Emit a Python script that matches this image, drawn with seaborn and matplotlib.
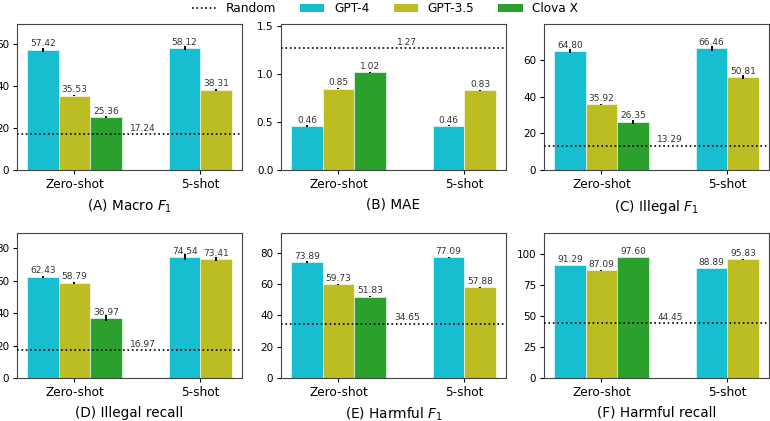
import matplotlib
matplotlib.use("Agg")
import matplotlib.pyplot as plt
import pandas as pd
import seaborn as sns
from matplotlib.lines import Line2D
from matplotlib.patches import Patch
from matplotlib.ticker import MaxNLocator

settings = ["Zero-shot", "5-shot"]
models = ["GPT-4", "GPT-3.5", "Clova X"]
models_5shot = ["GPT-4", "GPT-3.5"]
palette = {"GPT-4": "#17becf", "GPT-3.5": "#bcbd22", "Clova X": "#2ca02c"}

titles = ["(A) Macro $F_1$", "(B) MAE", "(C) Illegal $F_1$",
          "(D) Illegal recall", "(E) Harmful $F_1$", "(F) Harmful recall"]

# Zero-shot: GPT-4, GPT-3.5, Clova X ; 5-shot: GPT-4, GPT-3.5
zero_A = [57.42, 35.53, 25.36]; five_A = [58.12, 38.31]
zero_B = [0.46, 0.85, 1.02];    five_B = [0.46, 0.83]
zero_C = [64.80, 35.92, 26.35]; five_C = [66.46, 50.81]
zero_D = [62.43, 58.79, 36.97]; five_D = [74.54, 73.41]
zero_E = [73.89, 59.73, 51.83]; five_E = [77.09, 57.88]
zero_F = [91.29, 87.09, 97.60]; five_F = [88.89, 95.83]

# error bar half-lengths (estimated)
zero_err_A = [1.0, 0.3, 0.4];    five_err_A = [1.0, 0.4]
zero_err_B = [0.006, 0.006, 0.008]; five_err_B = [0.005, 0.006]
zero_err_C = [1.1, 0.4, 1.1];    five_err_C = [1.5, 1.1]
zero_err_D = [0.8, 0.5, 1.8];    five_err_D = [1.9, 1.3]
zero_err_E = [0.6, 0.3, 0.3];    five_err_E = [0.3, 0.4]
zero_err_F = [0.3, 0.5, 0.2];    five_err_F = [0.3, 0.5]

random_vals = [17.24, 1.27, 13.29, 16.97, 34.65, 44.45]

zeros = [zero_A, zero_B, zero_C, zero_D, zero_E, zero_F]
fives = [five_A, five_B, five_C, five_D, five_E, five_F]
zero_errs = [zero_err_A, zero_err_B, zero_err_C, zero_err_D, zero_err_E, zero_err_F]
five_errs = [five_err_A, five_err_B, five_err_C, five_err_D, five_err_E, five_err_F]

W, H = 770, 421
fig = plt.figure(figsize=(W / 100, H / 100), dpi=100)

lefts_px = [17, 281, 544]
rows_px = [(24, 170), (233, 378)]
ax_w_px = 225


def draw_panel(ax, zero, five, zerr, ferr, rnd, title):
    df0 = pd.DataFrame({"setting": "Zero-shot", "model": models, "score": zero})
    df5 = pd.DataFrame({"setting": "5-shot", "model": models_5shot, "score": five})
    for df, errs, hue_order, width in [(df0, zerr, models, 0.75),
                                       (df5, ferr, models_5shot, 0.5)]:
        n0 = len(ax.containers)
        sns.barplot(data=df, x="setting", y="score", hue="model",
                    order=settings, hue_order=hue_order, palette=palette,
                    width=width, saturation=1, errorbar=None, legend=False,
                    edgecolor="white", linewidth=0.4, ax=ax)
        lookup = dict(zip([round(v, 2) for v in df["score"]], errs))
        for cont in ax.containers[n0:]:
            for bar in cont:
                h = bar.get_height()
                ax.errorbar(bar.get_x() + bar.get_width() / 2, h,
                            yerr=lookup[round(h, 2)], fmt="none",
                            ecolor="black", elinewidth=1.4, capsize=0, zorder=3)
            ax.bar_label(cont, fmt="%.2f", fontsize=6.5, padding=1, color="#333333")
    # x limits with standard 5% margins around the drawn bars
    lo = min(p.get_x() for p in ax.patches)
    hi = max(p.get_x() + p.get_width() for p in ax.patches)
    pad = 0.05 * (hi - lo)
    ax.set_xlim(lo - pad, hi + pad)
    ax.set_ylim(0, 1.2 * max(zero + five + [rnd]))
    ax.axhline(rnd, color="black", linestyle=":", linewidth=1.2, zorder=4)
    ax.annotate(f"{rnd:.2f}", xy=(0.545, rnd), xytext=(0, 1),
                textcoords="offset points", ha="center", va="bottom",
                fontsize=6.5, color="#333333")
    ax.yaxis.set_major_locator(MaxNLocator(nbins=5, steps=[1, 2, 2.5, 5, 10]))
    ax.set_ylabel("")
    ax.set_xlabel(title, fontsize=9.8, labelpad=5)
    ax.tick_params(axis="x", labelsize=8.7, length=3, pad=2.5)
    ax.tick_params(axis="y", labelsize=7.5, length=3, pad=2.5)
    for s in ax.spines.values():
        s.set_color("#444444")


i = 0
for (top, bot) in rows_px:
    for lx in lefts_px:
        ax = fig.add_axes([lx / W, 1 - bot / H, ax_w_px / W, (bot - top) / H])
        draw_panel(ax, zeros[i], fives[i], zero_errs[i], five_errs[i],
                   random_vals[i], titles[i])
        i += 1

handles = [Line2D([0], [0], color="black", linestyle=":", linewidth=1.2, label="Random")]
handles += [Patch(facecolor=palette[m], label=m) for m in models]
fig.legend(handles=handles, loc="upper center", bbox_to_anchor=(0.5, 1.02),
           ncol=4, frameon=False, fontsize=8.7, columnspacing=2.0)

fig.savefig("out.png", dpi=100)
